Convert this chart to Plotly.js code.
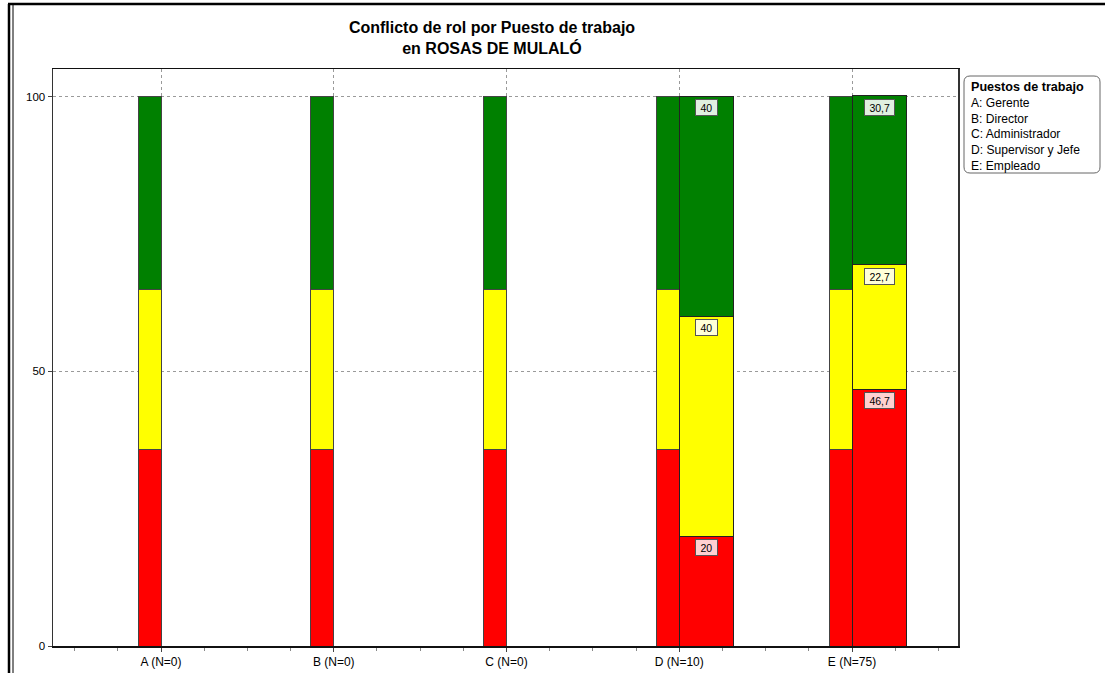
<!DOCTYPE html>
<html>
<head>
<meta charset="utf-8">
<script src="https://cdn.plot.ly/plotly-3.0.1.min.js"></script>
<style>
  html, body { margin: 0; padding: 0; background: #ffffff; }
  #chart { width: 1105px; height: 673px; }
</style>
</head>
<body>
<div id="chart"></div>
<script>
// ---- Data ----
var categorias = ['A (N=0)', 'B (N=0)', 'C (N=0)', 'D (N=10)', 'E (N=75)'];
// reference bar (left, narrow) per category
var refRojo     = [35.8, 35.8, 35.8, 35.8, 35.8];
var refAmarillo = [29.1, 29.1, 29.1, 29.1, 29.1];
var refVerde    = [35.1, 35.1, 35.1, 35.1, 35.1];
// group bar (right, wide) per category
var grpRojo     = [null, null, null, 20, 46.7];
var grpAmarillo = [null, null, null, 40, 22.7];
var grpVerde    = [null, null, null, 40, 30.7];
var yTicks = [0, 50, 100];
var leyendaTitulo = 'Puestos de trabajo';
var leyendaItems = ['A: Gerente', 'B: Director', 'C: Administrador', 'D: Supervisor y Jefe', 'E: Empleado'];

// ---- Layout helpers ----
var wRef = 0.133, wGrp = 0.3126;
var idx = categorias.map(function (_, i) { return i; });
var xRef = idx.map(function (i) { return i - wRef / 2; });
var xGrp = idx.map(function (i) { return i + wGrp / 2; });

var colRojo = '#FF0000', colAmar = '#FFFF00', colVerde = '#008000';
var FONT = 'Liberation Sans, Arial, sans-serif';

function barTrace(x, y, w, color, lineCol) {
  return {
    type: 'bar', x: x, y: y, width: w,
    marker: { color: color, line: { color: lineCol, width: 1 } },
    hoverinfo: 'y', showlegend: false
  };
}

var traces = [
  barTrace(xRef, refRojo, wRef, colRojo, '#444'),
  barTrace(xRef, refAmarillo, wRef, colAmar, '#444'),
  barTrace(xRef, refVerde, wRef, colVerde, '#444'),
  barTrace(xGrp, grpRojo, wGrp, colRojo, '#222'),
  barTrace(xGrp, grpAmarillo, wGrp, colAmar, '#222'),
  barTrace(xGrp, grpVerde, wGrp, colVerde, '#222')
];

// value labels at top of each group segment
var annotations = [];
var series = [
  { v: grpRojo, bg: '#FFD0D0' },
  { v: grpAmarillo, bg: '#FFFFD8' },
  { v: grpVerde, bg: '#E0F0E0' }
];
idx.forEach(function (i) {
  var cum = 0;
  series.forEach(function (s) {
    var val = s.v[i];
    if (val === null || val === undefined) return;
    cum += val;
    annotations.push({
      x: xGrp[i], y: Math.min(cum, 100), xref: 'x', yref: 'y',
      text: '&nbsp;' + String(val).replace('.', ',') + '&nbsp;',
      showarrow: false, yanchor: 'top', xanchor: 'center', yshift: -3,
      font: { family: FONT, size: 10.5, color: '#000' },
      bgcolor: s.bg, bordercolor: '#555', borderwidth: 1, borderpad: 1.5
    });
  });
});

// legend box (text only)
var L = 53, R = 958, T = 69, B = 646;
function px(X) { return (X - L) / (R - L); }
function py(Y) { return (B - Y) / (B - T); }

annotations.push({
  xref: 'paper', yref: 'paper', x: px(969), y: py(78), xanchor: 'left', yanchor: 'top',
  text: '<b>' + leyendaTitulo + '</b>', showarrow: false, align: 'left',
  font: { family: FONT, size: 12.6, color: '#000' }
});
annotations.push({
  xref: 'paper', yref: 'paper', x: px(969), y: py(94), xanchor: 'left', yanchor: 'top',
  text: leyendaItems.join('<br>'), showarrow: false, align: 'left',
  font: { family: FONT, size: 12.1, color: '#000' }
});

var rx0 = px(964), rx1 = px(1100), ry0 = py(173), ry1 = py(76);
var cx = 6 / (R - L), cy = 6 / (B - T);
var legendPath = 'M ' + (rx0 + cx) + ' ' + ry1 +
  ' L ' + (rx1 - cx) + ' ' + ry1 + ' Q ' + rx1 + ' ' + ry1 + ' ' + rx1 + ' ' + (ry1 - cy) +
  ' L ' + rx1 + ' ' + (ry0 + cy) + ' Q ' + rx1 + ' ' + ry0 + ' ' + (rx1 - cx) + ' ' + ry0 +
  ' L ' + (rx0 + cx) + ' ' + ry0 + ' Q ' + rx0 + ' ' + ry0 + ' ' + rx0 + ' ' + (ry0 + cy) +
  ' L ' + rx0 + ' ' + (ry1 - cy) + ' Q ' + rx0 + ' ' + ry1 + ' ' + (rx0 + cx) + ' ' + ry1 + ' Z';

var shapes = [
  { type: 'path', xref: 'paper', yref: 'paper', path: legendPath,
    line: { color: '#666', width: 1 }, fillcolor: 'rgba(0,0,0,0)' },
  // outer frame
  { type: 'line', xref: 'paper', yref: 'paper', x0: px(9), x1: px(9), y0: py(4), y1: py(673),
    line: { color: '#000', width: 2.5 } },
  { type: 'line', xref: 'paper', yref: 'paper', x0: px(13), x1: px(13), y0: py(4), y1: py(673),
    line: { color: '#000', width: 1 } },
  { type: 'line', xref: 'paper', yref: 'paper', x0: px(8), x1: px(1105), y0: py(4), y1: py(4),
    line: { color: '#000', width: 2.5 } }
];

var layout = {
  width: 1105, height: 673,
  margin: { l: L, r: 1105 - R, t: T, b: 673 - B, pad: 0 },
  paper_bgcolor: '#ffffff', plot_bgcolor: '#ffffff',
  barmode: 'stack',
  bargap: 0,
  font: { family: FONT, size: 11, color: '#000' },
  title: {
    text: '<b>Conflicto de rol por Puesto de trabajo<br>en ROSAS DE MULALÓ</b>',
    font: { family: FONT, size: 16, color: '#000' },
    x: 492 / 1105, xanchor: 'center', xref: 'container',
    y: 1 - 33 / 673, yanchor: 'top', yref: 'container'
  },
  xaxis: {
    range: [(L - 161) / 172.75, (R - 161) / 172.75],
    tickmode: 'array', tickvals: idx, ticktext: categorias,
    ticks: 'outside', ticklen: 4, tickcolor: '#444',
    showgrid: true, gridcolor: '#9a9a9a', griddash: 'dot', gridwidth: 1,
    showline: true, linecolor: '#111', linewidth: 1.5, mirror: true,
    zeroline: false, fixedrange: true,
    minor: { tick0: 0, dtick: 0.25, ticks: 'outside', ticklen: 3, tickcolor: '#888', showgrid: false },
    tickfont: { size: 12, color: '#000' }
  },
  yaxis: {
    range: [0, 105],
    tickmode: 'array', tickvals: yTicks,
    ticks: 'outside', ticklen: 4, tickcolor: '#444',
    showgrid: true, gridcolor: '#9a9a9a', griddash: 'dot', gridwidth: 1,
    showline: true, linecolor: '#333', linewidth: 1.5, mirror: true,
    zeroline: false, fixedrange: true,
    tickfont: { size: 11.5, color: '#000' }
  },
  annotations: annotations,
  shapes: shapes
};

Plotly.newPlot('chart', traces, layout, { displayModeBar: false, staticPlot: true });
</script>
</body>
</html>
